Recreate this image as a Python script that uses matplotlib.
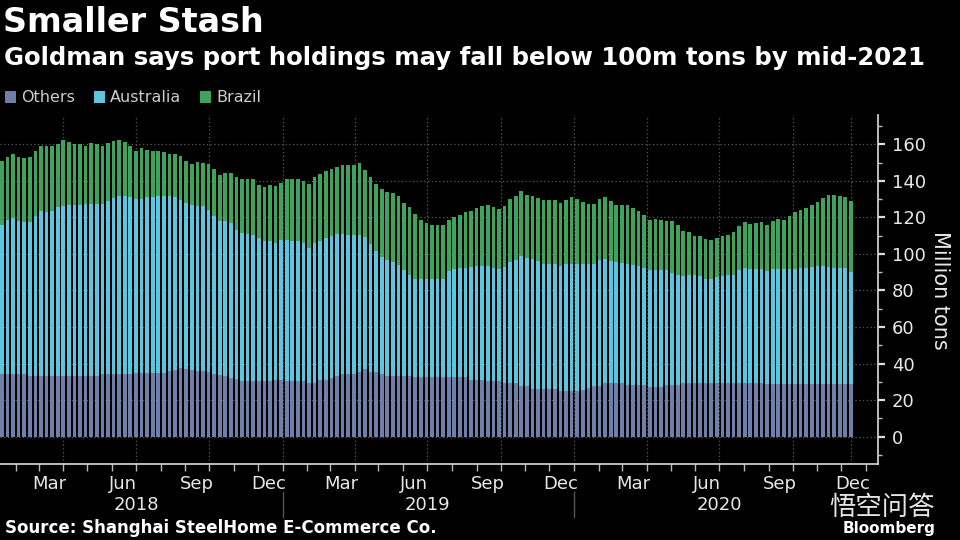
import matplotlib
matplotlib.use('Agg')
import matplotlib.pyplot as plt
import matplotlib.dates as mdates
import datetime as dt

# ---------------- data (million tons) ----------------
start_date = dt.date(2018, 1, 14)     # weekly observations
n_weeks = 153

others = [34, 34, 34, 34, 34, 33, 33, 33, 33, 33, 33, 33, 33, 33, 33, 33, 33, 33,
          34, 34, 34, 34, 34, 34, 34.8, 34.8, 34.8, 34.8, 34.8, 34.8,
          36, 36.5, 37.6, 37, 36.5, 36, 35.8, 35.5, 34.5, 33.5, 33, 32, 31.5,
          30.3, 30.3, 30.3, 30.3, 30.3, 30.3, 31, 31, 30.3, 30.3, 30.3, 30.3,
          29.6, 29.6, 31.2, 31.2, 32, 33, 34, 34, 34, 35.5, 37.1, 35.5, 35.5, 34.5,
          33, 33, 33, 33, 33, 32.6, 32.6, 32.6, 32.6, 32.6, 32.6, 32.6, 32.6, 32.6, 32.6,
          31.2, 31.2, 31.2, 30.3, 30.3, 30.3, 29.4, 29.4, 29.4, 27.6, 27.6,
          25.8, 25.8, 25.8, 25.8, 25.8, 24.9, 24.9, 24.9, 24.9, 25.5, 26.5, 27.6, 27.6,
          29.4, 29.4, 29.4, 29.4, 28.5, 28.5, 28.5, 28.5, 27.3, 27.3, 27.3,
          28.5, 28.5, 28.5, 29.4, 29.4, 29.4, 29.4, 29.4, 29.4, 29.4, 29.4, 29.4, 29.4,
          29.4, 29.4, 29.4, 29.4, 29.4, 29, 29, 29, 29, 29, 29, 29, 29, 29, 29, 29, 29,
          29, 29, 29, 29]

# top of the Australia segment (Others + Australia)
others_plus_australia = [
    116.0, 118.7, 119.6, 117.8, 117.5, 117.5, 120.5, 123.3, 122.7, 123.6,
    125.5, 126.4, 126.5, 126.5, 126.9, 127.3, 127.5, 127.5, 127.3, 129.1,
    130.5, 131.8, 131.8, 131.1, 130.0, 130.0, 130.9, 131.1, 131.5, 131.5,
    131.5, 130.9, 129.6, 127.8, 126.9, 126.4, 126.0, 124.2, 120.5, 118.2,
    117.8, 116.9, 113.3, 111.5, 110.9, 110.5, 108.7, 107.3, 106.9, 106.0,
    107.8, 107.8, 107.3, 106.9, 106.0, 103.3, 106.0, 107.3, 108.7, 109.6,
    110.9, 110.9, 110.5, 110.5, 110.5, 109.0, 105.5, 101.5, 98.3, 96.9,
    95.6, 93.8, 90.9, 88.7, 86.5, 86.0, 86.0, 86.0, 86.5, 86.5,
    90.5, 91.5, 92.0, 92.4, 92.7, 93.6, 93.6, 93.3, 92.0, 91.5,
    92.7, 95.5, 96.4, 98.7, 97.5, 97.3, 96.0, 94.5, 94.5, 94.2,
    93.3, 94.2, 94.5, 94.5, 94.2, 94.2, 94.2, 96.5, 97.3, 96.0,
    95.5, 95.1, 94.5, 94.0, 93.3, 92.0, 90.9, 90.9, 90.9, 90.9,
    89.6, 88.4, 87.8, 88.7, 88.4, 87.8, 86.5, 86.5, 87.3, 87.8,
    88.2, 88.7, 90.9, 92.0, 91.5, 91.5, 91.5, 90.5, 91.5, 91.5,
    91.5, 91.5, 91.5, 92.0, 92.4, 92.7, 93.3, 93.3, 92.7, 92.4,
    92.4, 92.0, 90.2]

# total port holdings (Others + Australia + Brazil)
total = [
    151.0, 153.1, 154.5, 153.1, 152.7, 153.1, 156.4, 159.3, 158.9, 159.3,
    160.4, 162.2, 161.1, 160.4, 160.0, 159.3, 160.7, 160.4, 159.3, 160.7,
    161.5, 162.5, 161.1, 158.9, 156.4, 157.8, 156.7, 156.4, 156.4, 156.0,
    154.9, 154.5, 153.5, 150.9, 149.1, 150.2, 149.6, 149.3, 146.2, 142.9,
    144.2, 144.2, 141.8, 141.1, 141.1, 141.1, 137.8, 136.7, 137.5, 136.9,
    138.7, 141.1, 141.1, 141.1, 140.0, 138.2, 141.8, 143.6, 145.5, 146.2,
    147.8, 148.4, 148.7, 148.4, 149.5, 146.0, 142.0, 138.5, 135.5, 133.8,
    133.3, 131.5, 127.8, 125.5, 121.8, 118.7, 116.9, 115.6, 115.6, 115.6,
    118.7, 120.0, 121.5, 122.9, 123.6, 125.1, 126.0, 126.9, 125.5, 124.7,
    126.0, 130.2, 131.5, 134.2, 132.0, 131.8, 130.5, 129.6, 129.6, 129.6,
    127.8, 129.6, 131.1, 130.0, 128.2, 127.3, 127.3, 130.0, 131.3, 128.7,
    126.9, 126.5, 126.5, 125.0, 123.6, 121.1, 118.7, 119.1, 118.7, 118.2,
    117.8, 116.0, 112.7, 111.8, 110.0, 109.6, 108.4, 107.8, 108.7, 109.6,
    110.5, 112.0, 115.1, 117.5, 116.5, 116.9, 117.5, 116.0, 117.8, 119.1,
    118.7, 120.5, 122.9, 124.2, 125.0, 126.5, 128.5, 130.5, 132.0, 132.0,
    131.8, 130.9, 129.1]

series_names = ['Others', 'Australia', 'Brazil']
month_labels = ['Mar', 'Jun', 'Sep', 'Dec']
years = [2018, 2019, 2020]
y_ticks = [0, 20, 40, 60, 80, 100, 120, 140, 160]

# ---------------- derived segments ----------------
dates = [start_date + dt.timedelta(weeks=i) for i in range(n_weeks)]
x = mdates.date2num(dates)
australia = [a - o for a, o in zip(others_plus_australia, others)]
brazil = [t - a for t, a in zip(total, others_plus_australia)]

# ---------------- style ----------------
BG = 'black'
C_OTH = '#6e80a9'
C_AUS = '#5cc6e0'
C_BRA = '#3ea35b'
TXT = '#e8e8e8'
GRID = '#5a5a5a'

fig = plt.figure(figsize=(9.6, 5.4), dpi=100, facecolor=BG)
ax = fig.add_axes([0, 1 - 464 / 540, 878 / 960, (464 - 115) / 540])
ax.set_facecolor(BG)

w = 4.6
b1 = ax.bar(x, others, width=w, color=C_OTH, linewidth=0, label=series_names[0], zorder=3)
b2 = ax.bar(x, australia, width=w, bottom=others, color=C_AUS, linewidth=0,
            label=series_names[1], zorder=3)
b3 = ax.bar(x, brazil, width=w, bottom=others_plus_australia, color=C_BRA, linewidth=0,
            label=series_names[2], zorder=3)

x_left = mdates.date2num(dt.datetime(2018, 1, 11, 16))
x_right = mdates.date2num(dt.datetime(2021, 1, 16))
ax.set_xlim(x_left, x_right)
ax.set_ylim(-15, 176)

# grid
for yv in y_ticks:
    ax.axhline(yv, color=GRID, linestyle=(0, (1, 2)), linewidth=0.9, zorder=1)
quarter_starts = [dt.date(yy, mm, 1) for yy in (2018, 2019, 2020) for mm in (1, 4, 7, 10)
                  if dt.date(yy, mm, 1) > dt.date(2018, 1, 20)]
for q in quarter_starts:
    ax.axvline(mdates.date2num(q), color=GRID, linestyle=(0, (1, 2)), linewidth=0.9, zorder=1)
ax.axvline(x[-1], color=GRID, linestyle=(0, (1, 2)), linewidth=0.9, zorder=1)

# spines
for s in ['left', 'top']:
    ax.spines[s].set_visible(False)
ax.spines['right'].set_color('#dddddd')
ax.spines['bottom'].set_color('#dddddd')
ax.spines['right'].set_linewidth(1.2)
ax.spines['bottom'].set_linewidth(1.2)

# y axis on right
ax.yaxis.tick_right()
ax.set_yticks(y_ticks)
ax.set_yticks(list(range(-10, 171, 10)), minor=True)
ax.tick_params(axis='y', which='major', direction='out', length=5, width=1.6,
               colors='#dddddd', labelcolor=TXT, labelsize=13, pad=5)
ax.tick_params(axis='y', which='minor', direction='out', length=3, width=1,
               colors='#bbbbbb')

# x axis
ax.xaxis.set_minor_locator(mdates.MonthLocator())
label_pos = [mdates.date2num(dt.date(yy, mm, 15)) for yy in years for mm in (3, 6, 9, 12)]
ax.set_xticks(label_pos)
ax.set_xticklabels(month_labels * len(years))
ax.tick_params(axis='x', which='major', length=0, labelcolor=TXT, labelsize=13, pad=8)
ax.tick_params(axis='x', which='minor', direction='out', length=5, width=1, colors='#bbbbbb')

tr = ax.get_xaxis_transform()
for yy in years:
    ax.text(mdates.date2num(dt.date(yy, 7, 1)), -0.117, str(yy), transform=tr,
            ha='center', va='center', color=TXT, fontsize=13)
for yy in years[1:]:
    xs = mdates.date2num(dt.date(yy, 1, 1))
    ax.plot([xs, xs], [-0.08, -0.152], transform=tr, color='#555555', lw=1, clip_on=False)

fig.text(940 / 960, 1 - 290 / 540, 'Million tons', rotation=270, ha='center', va='center',
         color=TXT, fontsize=15)

# titles
fig.text(0.003, 1 - 22 / 540, 'Smaller Stash', color='white', fontsize=24,
         fontweight='bold', ha='left', va='center')
fig.text(0.004, 1 - 58 / 540, 'Goldman says port holdings may fall below 100m tons by mid-2021',
         color='white', fontsize=17.6, fontweight='bold', ha='left', va='center')

# legend
fig.legend(handles=[b1, b2, b3], labels=series_names, loc='center left',
           bbox_to_anchor=(0.0, 1 - 98 / 540), ncol=3, frameon=False, fontsize=11.5,
           labelcolor='#cccccc', handlelength=0.7, handleheight=0.7, handletextpad=0.3,
           columnspacing=1.2, borderaxespad=0.0, borderpad=0.3)

# footer
fig.text(0.005, 1 - 528 / 540, 'Source: Shanghai SteelHome E-Commerce Co.', color='white',
         fontsize=12, fontweight='bold', ha='left', va='center')
fig.text(935 / 960, 1 - 528 / 540, 'Bloomberg', color='white', fontsize=11,
         fontweight='bold', ha='right', va='center')
fig.text(882 / 960, 1 - 507 / 540, '悟空问答', color='white', alpha=0.9, fontsize=19,
         family=['Noto Sans CJK SC', 'DejaVu Sans'], ha='center', va='center')

fig.savefig('out.png', dpi=100, facecolor=BG)
